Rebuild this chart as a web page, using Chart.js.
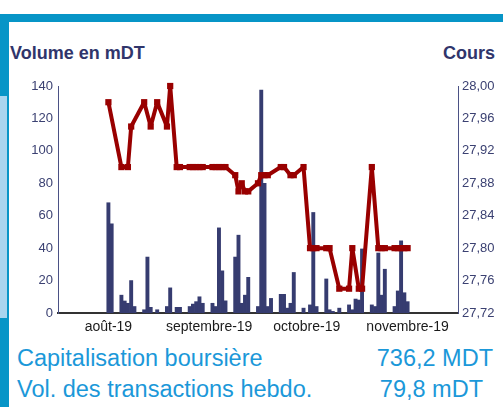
<!DOCTYPE html>
<html>
<head>
<meta charset="utf-8">
<script src="https://cdn.jsdelivr.net/npm/chart.js@4.4.0/dist/chart.umd.min.js"></script>
<style>
body { margin:0; width:503px; height:407px; background:#fff; position:relative; overflow:hidden; font-family:"Liberation Sans", Arial, sans-serif; }
#topBar { position:absolute; left:0; top:14px; width:503px; height:8px; background:#0795c7; }
#leftBar { position:absolute; left:0; top:14px; width:9px; height:393px; background:#0795c7; }
#leftLight { position:absolute; left:0; top:96px; width:7px; height:222px; background:#a9d5ef; }
.title { position:absolute; top:44px; font-size:18px; line-height:1; font-weight:bold; color:#30356b; white-space:nowrap; }
#chartBox { position:absolute; left:0; top:70px; width:503px; height:270px; }
.info { position:absolute; font-size:23.5px; line-height:1; color:#1b98d9; white-space:nowrap; }
</style>
</head>
<body>
<div id="topBar"></div>
<div id="leftBar"></div>
<div id="leftLight"></div>
<div class="title" style="left:10px;">Volume en mDT</div>
<div class="title" style="right:8px;">Cours</div>
<div id="chartBox"><canvas id="coursChart" width="503" height="270"></canvas></div>
<div class="info" style="left:17px; top:347px;">Capitalisation boursière</div>
<div class="info" style="right:10px; top:347px;">736,2 MDT</div>
<div class="info" style="left:17px; top:378px;">Vol. des transactions hebdo.</div>
<div class="info" style="right:20px; top:378px;">79,8 mDT</div>

<script>
// jours comptés depuis le 1er août 2019
var monthDays = [0, 31, 61, 92];
var monthLabels = ['août-19', 'septembre-19', 'octobre-19', 'novembre-19'];

var volumeDays = [0, 1, 4, 5, 6, 7, 8, 11, 12, 13, 15, 18, 19, 21, 22, 25, 26, 27, 28, 29,
    32, 33, 34, 35, 36, 39, 40, 41, 42, 43, 46, 47, 48, 49, 50, 53, 54, 55, 56, 57,
    60, 62, 63, 64, 67, 68, 69, 71, 74, 75, 76, 77, 78, 81, 82, 83, 84, 85, 88, 89, 90, 91, 92];
var volumeValues = [68, 55, 11, 7.4, 6, 20, 4, 2, 34.5, 3.5, 2, 4, 15.5, 3.5, 3.5, 4, 5.5, 7, 10, 6,
    6, 4, 52.5, 26, 7.5, 34.5, 48, 6, 11, 22, 4, 137.5, 80, 4, 9, 11.5, 11.5, 3, 6, 25,
    3, 5, 62, 4, 21, 2, 1, 3, 5, 2, 8.6, 8, 39.5, 5, 4, 37, 11, 27, 4, 13.6, 44.5, 12.5, 7];

var priceDays = [0, 4, 6, 7, 11, 13, 15, 18, 19, 21, 22, 25, 26, 27, 28, 29, 32, 33, 34, 35, 36,
    39, 40, 41, 42, 43, 46, 47, 48, 49, 53, 54, 56, 57, 60, 62, 63, 64, 67, 68,
    71, 74, 75, 77, 78, 81, 83, 84, 85, 88, 89, 90, 91, 92];
var priceValues = [27.98, 27.90, 27.90, 27.95, 27.98, 27.95, 27.98, 27.95, 28.00, 27.90, 27.90, 27.90, 27.90, 27.90, 27.90, 27.90, 27.90, 27.90, 27.90, 27.90, 27.90,
    27.89, 27.87, 27.88, 27.87, 27.87, 27.88, 27.89, 27.89, 27.89, 27.90, 27.90, 27.89, 27.89, 27.90, 27.80, 27.80, 27.80, 27.80, 27.80,
    27.75, 27.75, 27.80, 27.75, 27.75, 27.90, 27.80, 27.80, 27.80, 27.80, 27.80, 27.80, 27.80, 27.80];

var volumeTicks = [0, 20, 40, 60, 80, 100, 120, 140];
var coursTicks = [27.72, 27.76, 27.80, 27.84, 27.88, 27.92, 27.96, 28.00];

function toPoints(xs, ys) {
    var pts = [];
    for (var i = 0; i < xs.length; i++) {
        pts.push({ x: xs[i], y: ys[i] });
    }
    return pts;
}

function fixTicks(values) {
    return function (scale) {
        scale.ticks = values.map(function (v) { return { value: v }; });
    };
}

var navy = '#363c70';
var labelColor = '#3b4172';

var ctx = document.getElementById('coursChart').getContext('2d');
var myChart = new Chart(ctx, {
    type: 'bar',
    data: {
        datasets: [{
            type: 'line',
            data: toPoints(priceDays, priceValues),
            yAxisID: 'y1',
            borderColor: '#990000',
            backgroundColor: '#990000',
            borderWidth: 4,
            borderJoinStyle: 'bevel',
            pointStyle: 'rect',
            pointRadius: 4.4,
            pointBorderWidth: 0,
            pointBackgroundColor: '#990000',
            tension: 0,
            clip: false,
            order: 0
        }, {
            type: 'bar',
            data: toPoints(volumeDays, volumeValues),
            yAxisID: 'y',
            backgroundColor: navy,
            barPercentage: 1,
            categoryPercentage: 1,
            order: 1
        }]
    },
    options: {
        responsive: false,
        animation: false,
        layout: { padding: { top: 16, left: 0, right: 0, bottom: 0 } },
        plugins: { legend: { display: false }, tooltip: { enabled: false } },
        scales: {
            x: {
                type: 'linear',
                offset: false,
                min: -15.5,
                max: 107.5,
                afterBuildTicks: fixTicks(monthDays),
                afterFit: function (s) { s.height = 27; },
                grid: { display: false, drawTicks: false, offset: false },
                border: { display: true, color: '#333333', width: 2 },
                ticks: {
                    padding: 6,
                    color: '#1a1a1a',
                    font: { family: 'Liberation Sans', size: 14 },
                    maxRotation: 0,
                    autoSkip: false,
                    callback: function (v) {
                        var i = monthDays.indexOf(v);
                        return i >= 0 ? monthLabels[i] : '';
                    }
                }
            },
            y: {
                position: 'left',
                min: 0,
                max: 140,
                afterBuildTicks: fixTicks(volumeTicks),
                afterFit: function (s) { s.width = 58; },
                grid: { display: false, drawTicks: false },
                border: { display: true, color: '#4b5185', width: 1 },
                ticks: {
                    padding: 5,
                    color: labelColor,
                    font: { family: 'Liberation Sans', size: 13 }
                }
            },
            y1: {
                position: 'right',
                min: 27.72,
                max: 28.00,
                afterBuildTicks: fixTicks(coursTicks),
                afterFit: function (s) { s.width = 45; },
                grid: { display: false, drawTicks: false },
                border: { display: true, color: '#4b5185', width: 1 },
                ticks: {
                    padding: 4,
                    color: labelColor,
                    font: { family: 'Liberation Sans', size: 13 },
                    callback: function (v) { return v.toFixed(2).replace('.', ','); }
                }
            }
        }
    }
});
</script>
</body>
</html>
